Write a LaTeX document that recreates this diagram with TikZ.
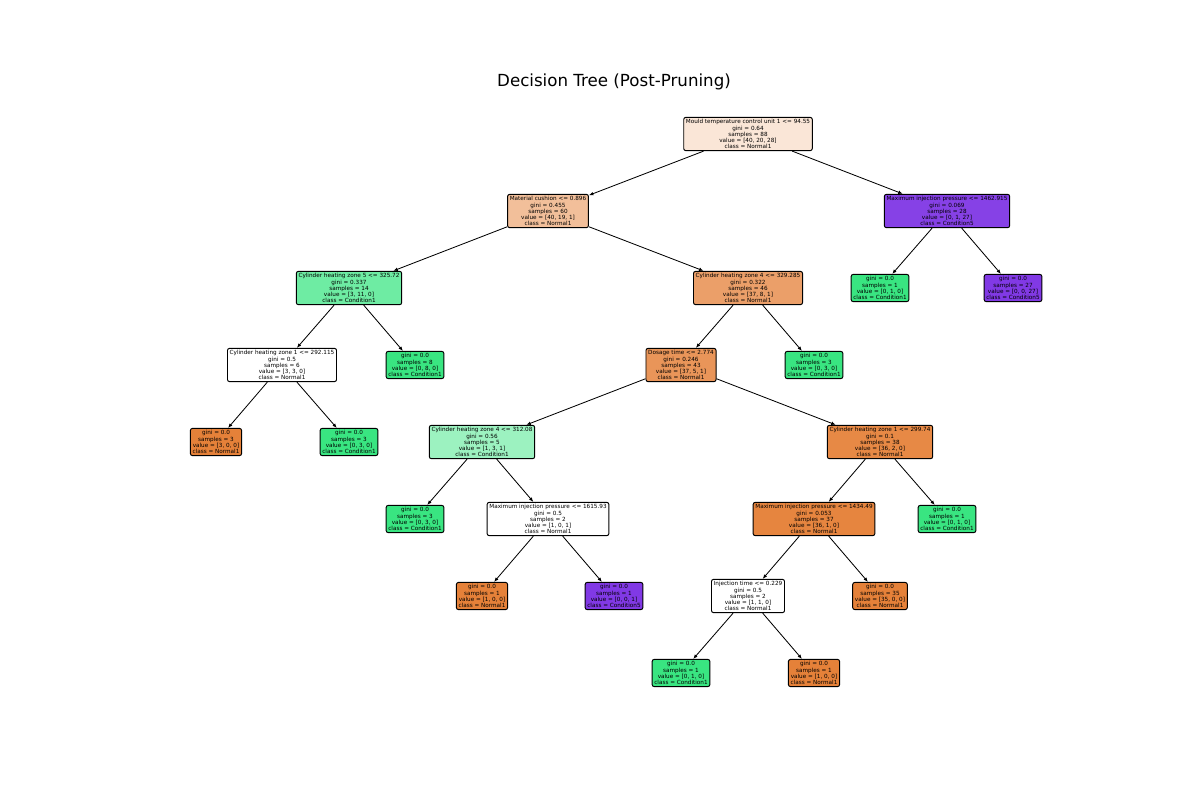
\documentclass[tikz,border=0pt]{standalone}
\usepackage{fontspec}
\setmainfont{DejaVu Sans}
\usepackage{tikz}
\usetikzlibrary{arrows.meta}
\definecolor{normcol}{RGB}{229,129,57}
\definecolor{condcol}{RGB}{57,229,129}
\definecolor{fivecol}{RGB}{129,57,229}
\tikzset{
    leaf/.style={draw=black, line width=0.7pt, rounded corners=1.5pt, inner sep=1.6pt, align=center,
        font=\fontsize{4.1}{4.4}\selectfont},
    edge/.style={line width=0.6pt, -{Latex[length=3.2pt, width=2.6pt]}}
}

\begin{document}
\begin{tikzpicture}[x=0.72pt, y=-0.72pt]

    \useasboundingbox (0,0) rectangle (1200,800);
    \node at (614,82) {\fontsize{12}{14}\selectfont Decision Tree (Post-Pruning)};

    % split nodes
    \node[leaf, fill=normcol!20] (root) at (748,134) {Mould temperature control unit 1 <= 94.55\\gini = 0.64\\samples = 88\\value = [40, 20, 28]\\class = Normal1};
    \node[leaf, fill=normcol!51] (cushion) at (548,211) {Material cushion <= 0.896\\gini = 0.455\\samples = 60\\value = [40, 19, 1]\\class = Normal1};
    \node[leaf, fill=fivecol!96] (pressA) at (947,211) {Maximum injection pressure <= 1462.915\\gini = 0.069\\samples = 28\\value = [0, 1, 27]\\class = Condition5};
    \node[leaf, fill=condcol!73] (zoneA) at (349,288) {Cylinder heating zone 5 <= 325.72\\gini = 0.337\\samples = 14\\value = [3, 11, 0]\\class = Condition1};
    \node[leaf, fill=normcol!76] (zoneB) at (748,288) {Cylinder heating zone 4 <= 329.285\\gini = 0.322\\samples = 46\\value = [37, 8, 1]\\class = Normal1};
    \node[leaf, fill=white] (zoneC) at (282,365) {Cylinder heating zone 1 <= 292.115\\gini = 0.5\\samples = 6\\value = [3, 3, 0]\\class = Normal1};
    \node[leaf, fill=normcol!84] (dosage) at (681,365) {Dosage time <= 2.774\\gini = 0.246\\samples = 43\\value = [37, 5, 1]\\class = Normal1};
    \node[leaf, fill=condcol!50] (zoneD) at (482,442) {Cylinder heating zone 4 <= 312.08\\gini = 0.56\\samples = 5\\value = [1, 3, 1]\\class = Condition1};
    \node[leaf, fill=normcol!94] (zoneE) at (880,442) {Cylinder heating zone 1 <= 299.74\\gini = 0.1\\samples = 38\\value = [36, 2, 0]\\class = Normal1};
    \node[leaf, fill=white] (pressB) at (548,519) {Maximum injection pressure <= 1615.93\\gini = 0.5\\samples = 2\\value = [1, 0, 1]\\class = Normal1};
    \node[leaf, fill=normcol!97] (pressC) at (814,519) {Maximum injection pressure <= 1434.49\\gini = 0.053\\samples = 37\\value = [36, 1, 0]\\class = Normal1};
    \node[leaf, fill=white] (inject) at (748,596) {Injection time <= 0.229\\gini = 0.5\\samples = 2\\value = [1, 1, 0]\\class = Normal1};

    % pure leaves
    \node[leaf, fill=condcol] (leafA) at (880,288) {gini = 0.0\\samples = 1\\value = [0, 1, 0]\\class = Condition1};
    \node[leaf, fill=fivecol] (leafB) at (1013,288) {gini = 0.0\\samples = 27\\value = [0, 0, 27]\\class = Condition5};
    \node[leaf, fill=condcol] (leafC) at (415,365) {gini = 0.0\\samples = 8\\value = [0, 8, 0]\\class = Condition1};
    \node[leaf, fill=condcol] (leafD) at (814,365) {gini = 0.0\\samples = 3\\value = [0, 3, 0]\\class = Condition1};
    \node[leaf, fill=normcol] (leafE) at (216,442) {gini = 0.0\\samples = 3\\value = [3, 0, 0]\\class = Normal1};
    \node[leaf, fill=condcol] (leafF) at (349,442) {gini = 0.0\\samples = 3\\value = [0, 3, 0]\\class = Condition1};
    \node[leaf, fill=condcol] (leafG) at (415,519) {gini = 0.0\\samples = 3\\value = [0, 3, 0]\\class = Condition1};
    \node[leaf, fill=condcol] (leafH) at (947,519) {gini = 0.0\\samples = 1\\value = [0, 1, 0]\\class = Condition1};
    \node[leaf, fill=normcol] (leafI) at (482,596) {gini = 0.0\\samples = 1\\value = [1, 0, 0]\\class = Normal1};
    \node[leaf, fill=fivecol] (leafJ) at (614,596) {gini = 0.0\\samples = 1\\value = [0, 0, 1]\\class = Condition5};
    \node[leaf, fill=normcol] (leafK) at (880,596) {gini = 0.0\\samples = 35\\value = [35, 0, 0]\\class = Normal1};
    \node[leaf, fill=condcol] (leafL) at (681,673) {gini = 0.0\\samples = 1\\value = [0, 1, 0]\\class = Condition1};
    \node[leaf, fill=normcol] (leafM) at (814,673) {gini = 0.0\\samples = 1\\value = [1, 0, 0]\\class = Normal1};

    \foreach \a/\b in {root/cushion, root/pressA, cushion/zoneA, cushion/zoneB, pressA/leafA, pressA/leafB,
        zoneA/zoneC, zoneA/leafC, zoneB/dosage, zoneB/leafD, zoneC/leafE, zoneC/leafF,
        dosage/zoneD, dosage/zoneE, zoneD/leafG, zoneD/pressB, zoneE/pressC, zoneE/leafH,
        pressB/leafI, pressB/leafJ, pressC/inject, pressC/leafK, inject/leafL, inject/leafM}
        \draw[edge] (\a) -- (\b);

\end{tikzpicture}
\end{document}
